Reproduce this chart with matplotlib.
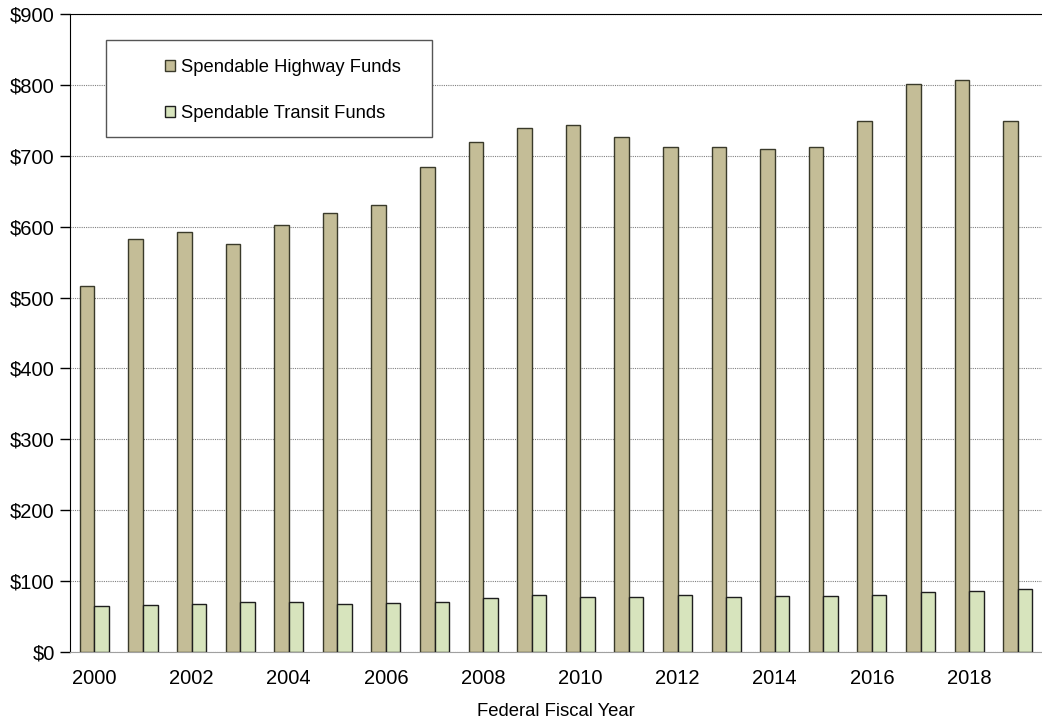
import numpy as np
import matplotlib.pyplot as plt
from matplotlib.patches import Rectangle

plt.rcParams['font.family'] = ['Liberation Sans', 'DejaVu Sans']

years = list(range(2000, 2020))
highway = [516, 582, 593, 576, 602, 620, 631, 684, 720, 739,
           744, 727, 713, 713, 709, 712, 749, 801, 807, 749]
transit = [65, 66, 68, 71, 70, 68, 69, 71, 76, 80,
           77, 78, 80, 78, 79, 79, 81, 85, 86, 89]
yticks = list(range(0, 1000, 100))

fig = plt.figure(figsize=(10.42, 7.26), dpi=100)
ax = fig.add_axes([0.0672, 0.1019, 0.9328, 0.8788])

x = np.arange(len(years))
w = 0.3
ax.bar(x - w/2, highway, w, color='#C4BD97', edgecolor='#3a3a2a', linewidth=1.0,
       label='Spendable Highway Funds', zorder=3)
ax.bar(x + w/2, transit, w, color='#D7E4BD', edgecolor='#1e1e1e', linewidth=1.0,
       label='Spendable Transit Funds', zorder=3)

ax.set_xlim(-0.5, len(years) - 0.5)
ax.set_ylim(0, 900)
ax.set_yticks(yticks)
ax.set_yticklabels([f'${v}' for v in yticks], fontsize=14.5)
ax.set_xticks(x[::2])
ax.set_xticklabels([str(y) for y in years[::2]], fontsize=14.5)
ax.tick_params(axis='x', length=0, pad=12)
ax.tick_params(axis='y', length=7, width=1, direction='out', pad=4)
ax.yaxis.grid(True, linestyle=(0, (1, 1)), color='#808080', linewidth=0.8, zorder=0)
ax.spines['right'].set_visible(False)
ax.spines['bottom'].set_color('#a0a0a0')
ax.set_xlabel('Federal Fiscal Year', fontsize=13.3, labelpad=11)

# legend box
ax.add_patch(Rectangle((106/1042, 1 - 137/726), (432 - 106)/1042, (137 - 40)/726,
                       transform=fig.transFigure, facecolor='white', edgecolor='#555555',
                       linewidth=1.0, zorder=5))
leg = fig.legend(loc='upper left', bbox_to_anchor=(165/1042, 1 - 59/726), frameon=False,
                 fontsize=13.2, handlelength=0.55, handleheight=0.55, handletextpad=0.3,
                 labelspacing=1.6, borderpad=0, borderaxespad=0)
leg.set_zorder(6)

fig.savefig('out.png', dpi=100)
